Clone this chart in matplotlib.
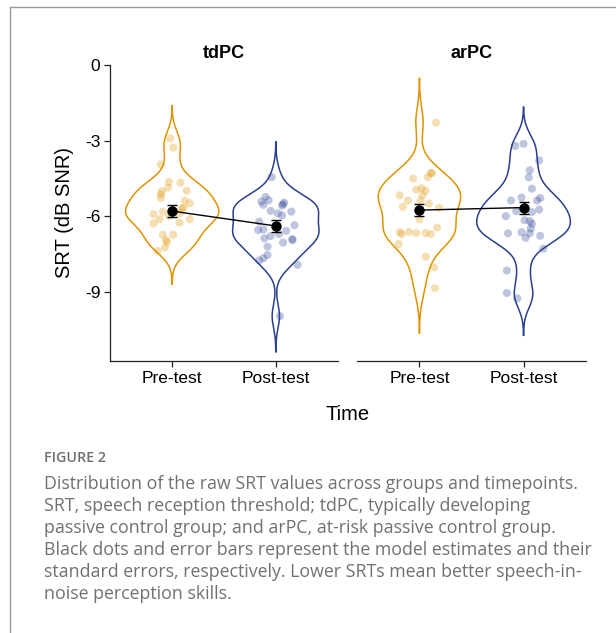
import numpy as np
import matplotlib
matplotlib.use("Agg")
import matplotlib.pyplot as plt
from matplotlib.lines import Line2D

plt.rcParams['font.family'] = ['Liberation Sans', 'DejaVu Sans']

# data
groups = ["tdPC", "arPC"]
times = ["Pre-test", "Post-test"]

td_pre = [-2.91, -3.28, -3.95, -4.64, -4.67, -4.87, -4.99, -5.01, -5.14, -5.28,
          -5.39, -5.49, -5.67, -5.70, -5.82, -5.92, -6.00, -5.89, -6.12, -6.12,
          -6.29, -6.26, -6.74, -6.74, -6.95, -7.03, -7.24, -7.38]
td_pre_jit = [-0.02, 0.01, -0.11, -0.03, 0.08, -0.04, 0.14, -0.10, -0.11, -0.11,
              0.12, 0.17, 0.11, 0.09, -0.09, -0.18, -0.03, 0.07, -0.12, 0.17,
              -0.18, 0.07, -0.09, 0.01, -0.06, -0.05, -0.07, -0.14]

td_post = [-4.45, -5.24, -5.42, -5.37, -5.55, -5.53, -5.46, -5.58, -5.79, -5.82,
           -5.89, -5.97, -6.22, -6.36, -6.55, -6.53, -6.79, -6.88, -6.58, -6.71,
           -6.95, -6.91, -7.05, -7.21, -7.54, -7.67, -7.76, -7.93, -9.97]
td_post_jit = [-0.04, -0.10, -0.14, -0.07, -0.12, 0.07, 0.08, 0.06, -0.05, 0.15,
               0.02, 0.06, -0.16, 0.18, -0.17, -0.12, -0.05, -0.11, 0.10, 0.03,
               0.16, 0.16, 0.07, -0.08, -0.08, -0.12, -0.16, 0.21, 0.04]

ar_pre = [-2.29, -4.29, -4.29, -4.45, -4.51, -4.95, -4.89, -4.99, -5.17, -5.17,
          -5.38, -5.39, -5.50, -5.63, -5.67, -6.12, -6.64, -6.71, -6.63, -6.67,
          -6.67, -6.71, -6.45, -7.11, -7.61, -8.04, -8.86]
ar_pre_jit = [0.16, 0.11, 0.12, 0.08, -0.06, -0.03, 0.02, 0.06, -0.19, 0.03,
              -0.11, 0.01, 0.09, -0.16, 0.19, 0.00, -0.19, -0.17, -0.10, -0.03,
              0.06, 0.11, 0.17, -0.20, 0.06, 0.14, 0.15]

ar_post = [-3.21, -3.13, -3.79, -4.18, -4.46, -4.91, -5.26, -5.28, -5.38, -5.38,
           -5.80, -5.84, -5.74, -6.00, -6.16, -6.20, -6.30, -6.49, -6.68, -6.64,
           -6.68, -6.86, -6.78, -7.29, -8.16, -9.05, -9.26]
ar_post_jit = [-0.08, 0.00, 0.15, 0.06, 0.05, 0.08, -0.02, 0.16, -0.12, 0.13,
               -0.07, 0.08, 0.15, -0.17, 0.01, 0.06, 0.08, 0.07, -0.15, -0.02,
               0.06, 0.02, 0.16, 0.19, -0.16, -0.16, -0.06]

est_pre = [-5.80, -5.76]
est_post = [-6.39, -5.66]
se_pre = [0.23, 0.25]
se_post = [0.23, 0.24]

yticks = [0, -3, -6, -9]

caption_title = "FIGURE 2"
caption_lines = [
    "Distribution of the raw SRT values across groups and timepoints.",
    "SRT, speech reception threshold; tdPC, typically developing",
    "passive control group; and arPC, at-risk passive control group.",
    "Black dots and error bars represent the model estimates and their",
    "standard errors, respectively. Lower SRTs mean better speech-in-",
    "noise perception skills.",
]

orange = "#DF9300"
blue = "#2A3F92"


def kde(vals):
    # gaussian density with R's nrd0 bandwidth, untrimmed (cut = 3)
    v = np.asarray(vals)
    iqr = np.percentile(v, 75) - np.percentile(v, 25)
    bw = 0.9 * min(v.std(ddof=1), iqr / 1.34) * len(v) ** -0.2
    grid = np.linspace(v.min() - 3 * bw, v.max() + 3 * bw, 512)
    d = np.exp(-0.5 * ((grid[:, None] - v[None, :]) / bw) ** 2).sum(1)
    d = d / (len(v) * bw * np.sqrt(2 * np.pi))
    return grid, d


fig = plt.figure(figsize=(6.16, 6.33), dpi=100)
W, H = 616, 633

def frac_x(px):
    return px / W

def frac_y(px):
    return 1 - px / H

ax_top, ax_bot = 65, 361
panels = [(110, 338), (357, 586)]
data = [((td_pre, td_pre_jit), (td_post, td_post_jit)),
        ((ar_pre, ar_pre_jit), (ar_post, ar_post_jit))]

for i, (x0, x1) in enumerate(panels):
    ax = fig.add_axes([frac_x(x0), frac_y(ax_bot), frac_x(x1 - x0),
                       (ax_bot - ax_top) / H])
    dens = [kde(d[0]) for d in data[i]]
    dmax = max(d.max() for _, d in dens)
    cols = [orange, blue]
    for k, ((g, d), (vals, jit)) in enumerate(zip(dens, data[i])):
        pos = k + 1
        w = d / dmax * 0.45
        ax.plot(np.concatenate([pos - w, (pos + w)[::-1]]),
                np.concatenate([g, g[::-1]]), color=cols[k], lw=1.1, zorder=2)
        ax.scatter(pos + np.array(jit), vals, s=34, color=cols[k], alpha=0.3,
                   edgecolors='none', zorder=3)
    ax.plot([1, 2], [est_pre[i], est_post[i]], color='black', lw=1.0, zorder=4)
    ax.errorbar([1, 2], [est_pre[i], est_post[i]], yerr=[se_pre[i], se_post[i]],
                fmt='o', color='black', ms=6.5, elinewidth=1.0, capsize=3.8,
                capthick=1.0, zorder=5)

    ax.set_xlim(0.4, 2.6)
    ax.set_ylim(-11.75, 0)
    ax.set_xticks([1, 2])
    ax.set_xticklabels(times, fontsize=12.5)
    ax.set_yticks(yticks)
    ax.set_yticklabels([str(t) for t in yticks], fontsize=12.5)
    ax.tick_params(length=4, width=0.9, color='#222222', pad=3)
    for s in ['top', 'right']:
        ax.spines[s].set_visible(False)
    ax.spines['bottom'].set_linewidth(0.9)
    ax.spines['left'].set_linewidth(0.9)
    ax.spines['bottom'].set_color('#222222')
    ax.spines['left'].set_color('#222222')
    if i == 1:
        ax.spines['left'].set_visible(False)
        ax.tick_params(axis='y', left=False, labelleft=False)
    else:
        ax.set_ylabel("SRT (dB SNR)", fontsize=14.5, labelpad=8)
    ax.set_title(groups[i], fontsize=13, fontweight='bold', pad=5)
    ax.patch.set_alpha(0)

fig.text(frac_x((110 + 586) / 2), frac_y(415), "Time", fontsize=14.5,
         ha='center', va='center')

# frame of the figure box
fig.add_artist(Line2D([frac_x(10), 1], [frac_y(7), frac_y(7)], color='#9a9a9a', lw=1))
fig.add_artist(Line2D([frac_x(10), frac_x(10)], [frac_y(7), 0], color='#9a9a9a', lw=1))

fig.text(frac_x(44), frac_y(462), caption_title, fontsize=10.3, color='#6e6e6e',
         family=['Open Sans', 'DejaVu Sans'], fontweight='semibold', va='baseline')
for j, line in enumerate(caption_lines):
    fig.text(frac_x(44), frac_y(489 + 22 * j), line, fontsize=12.8, color='#707070',
             family=['Open Sans', 'DejaVu Sans'], va='baseline')

fig.savefig("out.png", dpi=100)
